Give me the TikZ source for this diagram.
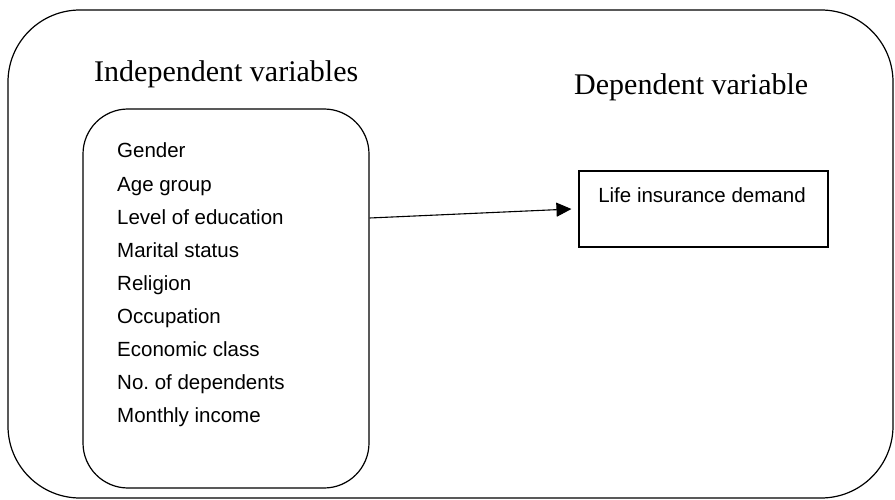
\documentclass[tikz,border=0pt]{standalone}
\usepackage{fontspec}
\setmainfont{Liberation Serif}
\setsansfont{Liberation Sans}
\usetikzlibrary{positioning, arrows.meta}
\tikzset{
    frame/.style = {draw = black, line width = 1.2pt, rounded corners = 72pt},
    group/.style = {draw = black, line width = 1.2pt, rounded corners = 45pt},
    outcome/.style = {rectangle, draw = black, line width = 1.1pt},
    heading/.style = {inner sep = 0pt, anchor = base west, font = \fontsize{30}{36}\selectfont},
    item/.style = {inner sep = 0pt, anchor = base west, font = \sffamily\frenchspacing\fontsize{20.5}{24}\selectfont},
    link/.style = {line width = 1.1pt, -{Triangle[length = 15pt, width = 14pt]}}
}

\begin{document}
\begin{tikzpicture}[x = 1pt, y = -1pt]
        \useasboundingbox (0, 0) rectangle (895, 500);
        % outer frame and the group of independent variables
        \draw [frame] (8, 10) rectangle (893, 498);
        \node [group, rectangle, minimum width = 286pt, minimum height = 379pt, inner sep = 0pt] (inner) at (226, 298.5) {};
        \node [outcome, minimum width = 249pt, minimum height = 76pt, inner sep = 0pt] (life) at (703.5, 209) {};
        % headings
        \node [heading] (indep) at (94, 82) {Independent variables};
        \node [heading] (dep) at (574, 95) {Dependent variable};
        % variables
        \foreach \name [count = \i from 0] in {Gender, Age group, Level of education, Marital status, Religion, Occupation, Economic class, No. of dependents, Monthly income}
            \node [item] (v\i) at (117, 158 + 33.1 * \i) {\name};
        \node [item, anchor = base] (demand) at (702, 203) {Life insurance demand};
        \draw [link] ([yshift = 80.5pt]inner.east) -- ([xshift = -7pt]life.west);
    \end{tikzpicture}
\end{document}
